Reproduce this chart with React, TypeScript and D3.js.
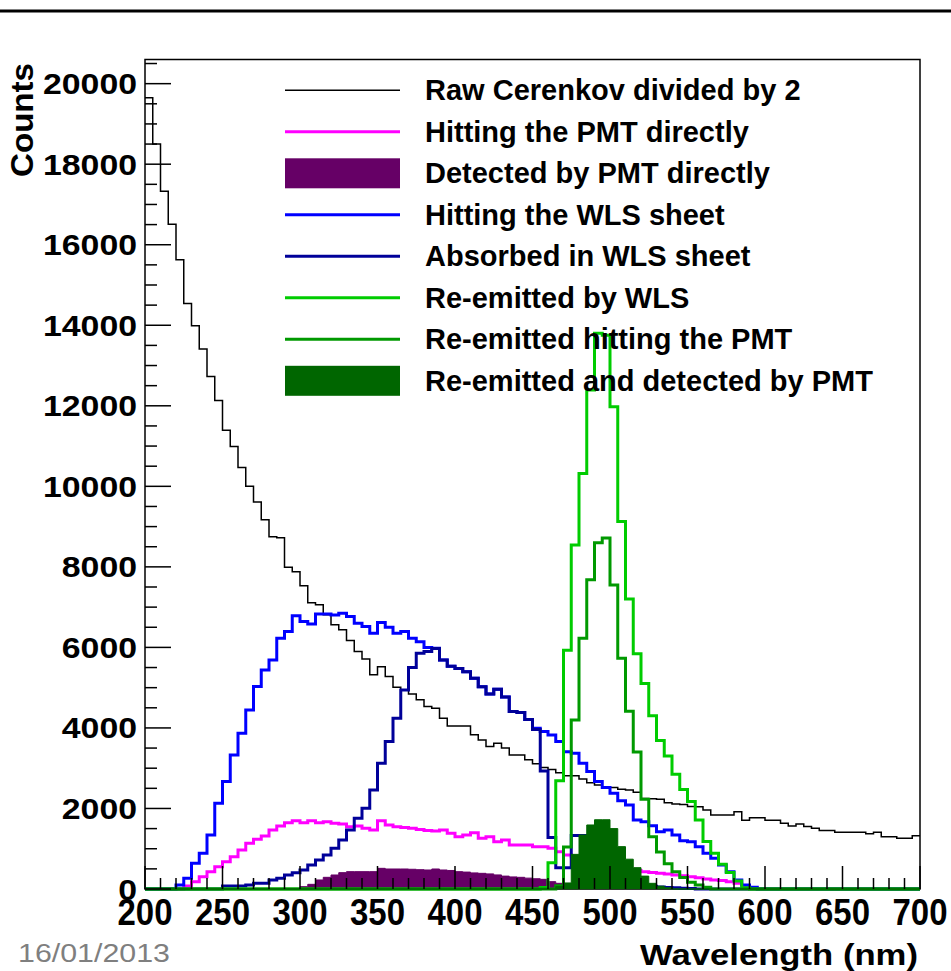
import React from "react";
import * as d3 from "d3";

// ---------- data (100 bins of 5 nm, 200-700 nm) ----------
const BIN_START = 200;
const BIN_WIDTH = 5;

const rawCerenkovHalf = [
  19650, 18500, 17330, 16510, 15630, 14540, 13990, 13410, 12730, 12130,
  11390, 10990, 10470, 10000, 9610, 9170, 8750, 8720, 7990, 7880,
  7530, 7110, 7060, 6810, 6560, 6440, 6170, 5900, 5710, 5320,
  5520, 5280, 5010, 4940, 4840, 4700, 4530, 4490, 4240, 4050,
  4050, 4050, 3830, 3700, 3540, 3620, 3500, 3330, 3330, 3210,
  3110, 3020, 2970, 2890, 2810, 2810, 2730, 2640, 2580, 2530,
  2520, 2480, 2460, 2400, 2250, 2240, 2230, 2140, 2110, 2100,
  2050, 2040, 1960, 1840, 1840, 1840, 1920, 1710, 1770, 1770,
  1710, 1710, 1630, 1565, 1615, 1550, 1510, 1450, 1450, 1410,
  1410, 1410, 1410, 1370, 1410, 1300, 1300, 1260, 1260, 1320,
];

const hittingPMT = [
  0, 0, 0, 0, 0, 75, 182, 306, 431, 555,
  679, 803, 969, 1135, 1234, 1317, 1466, 1565, 1648, 1698,
  1648, 1698, 1648, 1673, 1631, 1615, 1549, 1565, 1507, 1466,
  1698, 1590, 1549, 1530, 1507, 1480, 1450, 1440, 1466, 1383,
  1300, 1342, 1400, 1259, 1300, 1176, 1217, 1093, 1093, 1093,
  1052, 1052, 1010, 928, 845, 800, 760, 720, 680, 630,
  580, 530, 490, 460, 431, 410, 390, 370, 348, 330,
  306, 280, 250, 224, 210, 182, 141, 80, 30, 0,
  0, 0, 0, 0, 0, 0, 0, 0, 0, 0,
  0, 0, 0, 0, 0, 0, 0, 0, 0, 0,
];

const detectedPMT = [
  0, 0, 0, 0, 0, 0, 0, 0, 0, 0,
  0, 0, 0, 0, 0, 0, 0, 0, 0, 0,
  58, 116, 224, 290, 348, 406, 431, 431, 431, 431,
  513, 497, 497, 497, 490, 480, 472, 497, 472, 460,
  431, 420, 400, 389, 375, 350, 320, 300, 290, 270,
  255, 240, 182, 141, 99, 60, 40, 20, 0, 0,
  0, 0, 0, 0, 0, 0, 0, 0, 0, 0,
  0, 0, 0, 0, 0, 0, 0, 0, 0, 0,
  0, 0, 0, 0, 0, 0, 0, 0, 0, 0,
  0, 0, 0, 0, 0, 0, 0, 0, 0, 0,
];

const hittingWLS = [
  0, 0, 0, 0, 100, 265, 638, 886, 1342, 2128,
  2667, 3329, 3867, 4447, 5027, 5441, 5690, 6228, 6393, 6783,
  6642, 6584, 6832, 6832, 6807, 6849, 6766, 6600, 6517, 6352,
  6617, 6501, 6352, 6393, 6230, 6140, 6000, 5980, 5690, 5530,
  5475, 5395, 5234, 5020, 4845, 4960, 4770, 4405, 4385, 4210,
  3992, 3909, 3826, 3660, 3411, 3370, 3122, 2915, 2667, 2520,
  2377, 2190, 2087, 1714, 1670, 1570, 1424, 1466, 1342, 1200,
  1176, 1052, 886, 762, 596, 430, 224, 100, 42, 0,
  0, 0, 0, 0, 0, 0, 0, 0, 0, 0,
  0, 0, 0, 0, 0, 0, 0, 0, 0, 0,
];

const absorbedWLS = [
  0, 0, 0, 0, 0, 0, 0, 0, 0, 0,
  75, 75, 75, 99, 141, 141, 224, 265, 348, 406,
  472, 596, 720, 845, 1010, 1217, 1466, 1755, 2004, 2460,
  3122, 3660, 4240, 4944, 5500, 5855, 5900, 5970, 5690, 5530,
  5475, 5395, 5234, 5020, 4845, 4960, 4770, 4405, 4385, 4210,
  3960, 2930, 1280, 530, 530, 1330, 1330, 900, 650, 450,
  330, 250, 180, 130, 100, 70, 50, 40, 30, 20,
  10, 0, 0, 0, 0, 0, 0, 0, 0, 0,
  0, 0, 0, 0, 0, 0, 0, 0, 0, 0,
  0, 0, 0, 0, 0, 0, 0, 0, 0, 0,
];

const reemittedWLS = [
  0, 0, 0, 0, 0, 0, 0, 0, 0, 0,
  0, 0, 0, 0, 0, 0, 0, 0, 0, 0,
  0, 0, 0, 0, 0, 0, 0, 0, 0, 0,
  0, 0, 0, 0, 0, 0, 0, 0, 0, 0,
  0, 0, 0, 0, 0, 0, 0, 0, 0, 0,
  0, 40, 650, 2690, 5930, 8540, 10320, 12390, 13800, 13750,
  11975, 9125, 7200, 5840, 5105, 4300, 3690, 3300, 2850, 2470,
  2170, 1714, 1180, 886, 615, 410, 200, 30, 0, 0,
  0, 0, 0, 0, 0, 0, 0, 0, 0, 0,
  0, 0, 0, 0, 0, 0, 0, 0, 0, 0,
];

const reemittedHitPMT = [
  0, 0, 0, 0, 0, 0, 0, 0, 0, 0,
  0, 0, 0, 0, 0, 0, 0, 0, 0, 0,
  0, 0, 0, 0, 0, 0, 0, 0, 0, 0,
  0, 0, 0, 0, 0, 0, 0, 0, 0, 0,
  0, 0, 0, 0, 0, 0, 0, 0, 0, 0,
  0, 0, 0, 80, 1045, 4199, 6230, 7677, 8600, 8716,
  7550, 5730, 4415, 3405, 2230, 1300, 920, 630, 430, 285,
  170, 99, 42, 0, 0, 0, 0, 0, 0, 0,
  0, 0, 0, 0, 0, 0, 0, 0, 0, 0,
  0, 0, 0, 0, 0, 0, 0, 0, 0, 0,
];

const reemittedDetected = [
  0, 0, 0, 0, 0, 0, 0, 0, 0, 0,
  0, 0, 0, 0, 0, 0, 0, 0, 0, 0,
  0, 0, 0, 0, 0, 0, 0, 0, 0, 0,
  0, 0, 0, 0, 0, 0, 0, 0, 0, 0,
  0, 0, 0, 0, 0, 0, 0, 0, 0, 0,
  0, 0, 0, 60, 150, 860, 1340, 1590, 1720, 1720,
  1500, 1052, 740, 530, 320, 141, 70, 30, 0, 0,
  0, 0, 0, 0, 0, 0, 0, 0, 0, 0,
  0, 0, 0, 0, 0, 0, 0, 0, 0, 0,
  0, 0, 0, 0, 0, 0, 0, 0, 0, 0,
];

const legendLabels = [
  "Raw Cerenkov divided by 2",
  "Hitting the PMT directly",
  "Detected by PMT directly",
  "Hitting the WLS sheet",
  "Absorbed in WLS sheet",
  "Re-emitted by WLS",
  "Re-emitted hitting the PMT",
  "Re-emitted and detected by PMT",
];

const xTickValues = [200, 250, 300, 350, 400, 450, 500, 550, 600, 650, 700];
const yTickValues = [0, 2000, 4000, 6000, 8000, 10000, 12000, 14000, 16000, 18000, 20000];
const xTitle = "Wavelength (nm)";
const yTitle = "Counts";
const dateLabel = "16/01/2013";

// ---------- layout ----------
const W = 951;
const H = 971;
const FL = 145, FR = 920, FT = 59.5, FB = 889;
const FONT = "'Liberation Sans', Arial, Helvetica, sans-serif";

type Series = { values: number[]; color: string; width: number; fill: boolean };

const series: Series[] = [
  { values: rawCerenkovHalf, color: "#000000", width: 1.5, fill: false },
  { values: hittingPMT, color: "#ff00ff", width: 3, fill: false },
  { values: detectedPMT, color: "#660066", width: 1, fill: true },
  { values: hittingWLS, color: "#0000ff", width: 3, fill: false },
  { values: absorbedWLS, color: "#000099", width: 3, fill: false },
  { values: reemittedWLS, color: "#00cc00", width: 3, fill: false },
  { values: reemittedHitPMT, color: "#009900", width: 3, fill: false },
  { values: reemittedDetected, color: "#006600", width: 1, fill: true },
];

export default function App() {
  const x = d3.scaleLinear().domain([200, 700]).range([FL, FR]);
  const y = d3.scaleLinear().domain([0, 20600]).range([FB, FT]);

  const toPts = (vals: number[]) => {
    const pts: [number, number][] = [];
    vals.forEach((v, i) => {
      const x0 = BIN_START + BIN_WIDTH * i;
      pts.push([x0, v], [x0 + BIN_WIDTH, v]);
    });
    return pts;
  };
  const line = d3.line<[number, number]>().x((d) => x(d[0])).y((d) => y(d[1]));
  const area = d3
    .area<[number, number]>()
    .x((d) => x(d[0]))
    .y0(y(0))
    .y1((d) => y(d[1]));

  const xMinor = d3.range(200, 701, 10);
  const yMinor = d3.range(0, 20601, 500);

  const legendY = (i: number) => 90.3 + 41.5 * i;

  const ticks = (
    <g stroke="#000" strokeWidth={1.5}>
      {xMinor.map((v) => (
        <line key={"xm" + v} x1={x(v)} x2={x(v)} y1={FB} y2={FB - (v % 50 === 0 ? 23 : 11)} />
      ))}
      {yMinor.map((v) => (
        <line key={"ym" + v} x1={FL} x2={FL + (v % 2000 === 0 ? 26 : 12)} y1={y(v)} y2={y(v)} />
      ))}
    </g>
  );

  return (
    <svg
      width={W}
      height={H}
      style={{ position: "absolute", left: 0, top: 0, background: "#fff" }}
      fontFamily={FONT}
    >
      <rect x={0} y={0} width={W} height={H} fill="#fff" />
      <line x1={0} x2={W} y1={11} y2={11} stroke="#000" strokeWidth={3} />

      {/* frame */}
      <rect x={FL} y={FT} width={FR - FL} height={FB - FT} fill="none" stroke="#000" strokeWidth={1.5} />

      {/* histograms */}
      {series.map((s, i) =>
        s.fill ? (
          <path key={i} d={area(toPts(s.values)) || ""} fill={s.color} stroke={s.color} strokeWidth={1} />
        ) : (
          <path key={i} d={line(toPts(s.values)) || ""} fill="none" stroke={s.color} strokeWidth={s.width} strokeLinejoin="miter" />
        )
      )}

      {ticks}

      {/* y tick labels */}
      {yTickValues.map((v) => (
        <text
          key={"yl" + v}
          x={137}
          y={y(v) + 10.5}
          textAnchor="end"
          fontSize={30}
          fontWeight="bold"
          textLength={String(v).length * 18.8}
          lengthAdjust="spacingAndGlyphs"
        >
          {v}
        </text>
      ))}

      {/* x tick labels */}
      {xTickValues.map((v) => (
        <text
          key={"xl" + v}
          x={x(v)}
          y={925}
          textAnchor="middle"
          fontSize={37}
          fontWeight="bold"
          textLength={55}
          lengthAdjust="spacingAndGlyphs"
        >
          {v}
        </text>
      ))}

      {/* axis titles */}
      <text
        transform={`translate(33,63) rotate(-90)`}
        textAnchor="end"
        fontSize={32}
        fontWeight="bold"
        textLength={114}
        lengthAdjust="spacingAndGlyphs"
      >
        {yTitle}
      </text>
      <text
        x={918}
        y={965}
        textAnchor="end"
        fontSize={30}
        fontWeight="bold"
        textLength={278}
        lengthAdjust="spacingAndGlyphs"
      >
        {xTitle}
      </text>

      {/* legend */}
      {series.map((s, i) => (
        <g key={"lg" + i}>
          {s.fill ? (
            <rect x={285} y={legendY(i) - 15} width={115} height={30} fill={s.color} />
          ) : (
            <line x1={285} x2={400} y1={legendY(i)} y2={legendY(i)} stroke={s.color} strokeWidth={s.width} />
          )}
          <text x={425} y={legendY(i) + 10} fontSize={29} fontWeight="bold">
            {legendLabels[i]}
          </text>
        </g>
      ))}

      <text x={18} y={962} fontSize={26} fill="#7f7f7f" textLength={152} lengthAdjust="spacingAndGlyphs">
        {dateLabel}
      </text>
    </svg>
  );
}
